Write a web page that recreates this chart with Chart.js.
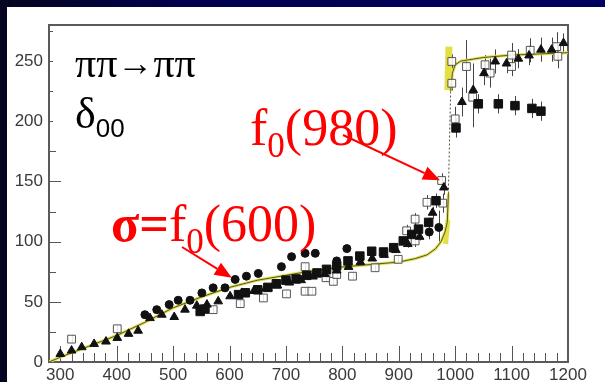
<!DOCTYPE html>
<html>
<head>
<meta charset="utf-8">
<script src="https://cdn.jsdelivr.net/npm/chart.js@4/dist/chart.umd.min.js"></script>
<style>
  html, body { margin: 0; padding: 0; background: #fff; overflow: hidden; }
  #wrap { width: 605px; height: 382px; position: relative; }
</style>
</head>
<body>
<div id="wrap"><canvas id="c" width="605" height="382"></canvas></div>
<script>
// Axis ticks
const xTicks = [300, 400, 500, 600, 700, 800, 900, 1000, 1100, 1200];
const yTicks = [0, 50, 100, 150, 200, 250];

// Phase shift delta_00 (degrees) versus pi-pi mass (MeV)
// Filled circles
const circX = [450, 471, 493, 509, 530, 551, 571, 592, 610, 630, 651, 692, 710, 734, 752, 790, 808, 954, 971];
const circY = [39.3, 43.5, 47.7, 51.3, 51.3, 57.4, 61.6, 61.6, 68.6, 71.3, 73.6, 79.2, 87.5, 90.3, 90.3, 84, 94.2, 108, 111.8];
const circErr = [2, 2, 2, 2, 2, 2, 2, 2, 3, 3, 3, 3, 3, 3, 3, 3, 3, 6, 14];

// Filled triangles
const triX = [300, 320, 338, 360, 381, 401, 421, 438, 459, 480, 502, 521, 542, 560, 580, 601, 622, 643, 664, 685, 706, 727, 748, 769, 790, 811, 832, 853, 874, 895, 916, 937, 960, 980, 1012, 1032, 1051, 1071, 1091, 1112, 1131, 1152, 1171, 1192];
const triY = [6.7, 9.5, 12.3, 15, 17, 20, 23.4, 26, 36.5, 39.3, 37.4, 43.5, 46.8, 47.7, 50.4, 54.6, 57.4, 59, 61, 63.5, 66, 68, 71, 73, 76, 79, 83, 86, 89, 93, 98, 104, 124, 145, 216, 226, 240, 249.7, 248, 252, 254.7, 259.5, 259.5, 265];
const triErr = [4, 2, 1, 1, 1, 1, 1, 1, 2, 2, 2, 2, 2, 2, 2, 2, 2, 2, 2, 2, 2, 2, 2, 2, 2, 2, 2, 2, 2, 2, 3, 3, 5, 6, 12, 22, 10, 10, 8, 8, 8, 10, 10, 8];

// Filled squares
const fsqX = [548, 556, 616, 628, 650, 668, 683, 700, 718, 737, 755, 772, 790, 810, 831, 852, 873, 891, 908, 923, 935, 953, 966, 1001.5, 1041, 1076.5, 1106, 1136, 1152];
const fsqY = [42, 44, 56, 57.5, 60, 62, 65, 68, 69, 72, 74, 77, 80, 84, 88, 92, 91.4, 95, 100.6, 106, 110.4, 116, 134, 194.5, 214.5, 214.5, 213, 210.7, 208.4];
const fsqErr = [2, 2, 2, 2, 2, 2, 2, 2, 2, 2, 2, 2, 2, 2, 2, 2, 2, 2, 2, 2, 3, 4, 6, 8, 8, 8, 8, 8, 8];

// Open squares
const osqX = [320, 401, 571, 619, 660, 701, 734, 746, 734, 771, 784, 790, 818, 858, 899, 914, 929, 929, 950, 976, 978, 994, 994, 1000, 1020, 1031, 1053, 1062, 1100, 1100, 1133, 1180, 1182];
const osqY = [19, 27.6, 43.5, 48.5, 53.2, 56.6, 58.8, 58.8, 79.2, 70, 67, 72.7, 71.3, 78.3, 85.3, 109, 100.6, 118.7, 132.7, 150.8, 132, 249.7, 231.6, 202, 245.5, 220, 247, 240, 255, 245.5, 259, 262, 254];
const osqErr = [3, 3, 3, 3, 3, 3, 3, 3, 3, 3, 3, 3, 3, 3, 3, 5, 5, 5, 6, 6, 8, 6, 6, 10, 22, 25, 8, 12, 10, 8, 10, 12, 10];

// Fitted phase shift curve
const curveX = [280, 300, 350, 400, 450, 500, 550, 600, 650, 700, 750, 800, 850, 900, 930, 950, 965, 975, 982, 986, 988, 990, 992, 995, 1000, 1010, 1050, 1100, 1150, 1200];
const curveY = [0, 4, 13, 22, 33, 45, 54, 62, 68, 72, 76, 79, 81, 83, 86, 89, 94, 100, 108, 116, 140, 185, 225, 240, 247, 250, 253, 255, 256, 257];

// Uncertainty band of the curve near the f0(980)
const bandLowX = [983, 987];
const bandLowY = [98, 118];
const bandTopX = [987, 989];
const bandTopY = [226, 262];

const pts = (xs, ys, es) => xs.map((x, i) => ({ x, y: ys[i], e: es ? es[i] : 0 }));

const YELLOW = 'rgba(226, 222, 60, 0.95)';
const INK = '#111';

// Annotation arrows, tips given in data units
const notes = {
  sigma: { from: [182, 247], tip: [604, 70] },
  f980: { from: [343, 135], tip: [973, 151] }
};

const pagePlugin = {
  id: 'page',
  beforeDraw(chart) {
    const { ctx, width, height } = chart;
    ctx.save();
    const g = ctx.createLinearGradient(0, 0, width, 0);
    g.addColorStop(0, '#050520');
    g.addColorStop(0.3, '#00004e');
    g.addColorStop(1, '#00005e');
    ctx.fillStyle = g;
    ctx.fillRect(0, 0, width, height);
    ctx.fillStyle = '#ffffff';
    ctx.fillRect(7, 7, width - 7, height - 7);
    ctx.restore();
  }
};

const frameTicksPlugin = {
  id: 'frameTicks',
  beforeDatasetsDraw(chart) {
    const { ctx, chartArea: a, scales: { x, y } } = chart;
    ctx.save();
    ctx.strokeStyle = '#555';
    ctx.lineWidth = 1;
    ctx.beginPath();
    for (let v = 280; v <= 1200; v += 20) {
      const px = Math.round(x.getPixelForValue(v)) + 0.5;
      const len = v % 100 === 0 ? 16 : 9;
      ctx.moveTo(px, a.bottom);
      ctx.lineTo(px, a.bottom - len);
    }
    for (let v = 25; v <= 275; v += 25) {
      const py = Math.round(y.getPixelForValue(v)) + 0.5;
      const len = v % 50 === 0 ? 12 : 7;
      ctx.moveTo(a.left, py);
      ctx.lineTo(a.left + len, py);
    }
    ctx.stroke();
    // white text panel laid over the top-left corner
    ctx.fillStyle = '#fff';
    ctx.fillRect(a.left + 4, a.top + 2, 146, 122);
    // frame
    ctx.strokeStyle = '#5a5a5a';
    ctx.lineWidth = 2;
    ctx.strokeRect(a.left, a.top, a.right - a.left, a.bottom - a.top);
    // error bars
    ctx.strokeStyle = '#444';
    ctx.lineWidth = 1;
    ctx.beginPath();
    chart.data.datasets.forEach((ds, i) => {
      if (!ds.errorBars || !chart.isDatasetVisible(i)) return;
      ds.data.forEach(p => {
        if (!p.e) return;
        const px = Math.round(x.getPixelForValue(p.x)) + 0.5;
        ctx.moveTo(px, y.getPixelForValue(p.y - p.e));
        ctx.lineTo(px, y.getPixelForValue(p.y + p.e));
      });
    });
    ctx.stroke();
    ctx.restore();
  }
};

function arrow(ctx, x0, y0, x1, y1) {
  const ang = Math.atan2(y1 - y0, x1 - x0);
  const hl = 17, hw = 7;
  const bx = x1 - hl * Math.cos(ang), by = y1 - hl * Math.sin(ang);
  ctx.beginPath();
  ctx.moveTo(x0, y0);
  ctx.lineTo(bx, by);
  ctx.stroke();
  ctx.beginPath();
  ctx.moveTo(x1, y1);
  ctx.lineTo(bx + hw * Math.sin(ang), by - hw * Math.cos(ang));
  ctx.lineTo(bx - hw * Math.sin(ang), by + hw * Math.cos(ang));
  ctx.closePath();
  ctx.fill();
}

// Writes a run of [text, font, dy] pieces left to right
function runs(ctx, x, y, parts) {
  parts.forEach(([t, f, dy]) => {
    ctx.font = f;
    ctx.fillText(t, x, y + dy);
    x += ctx.measureText(t).width;
  });
}

const labelsPlugin = {
  id: 'labels',
  afterDraw(chart) {
    const { ctx, scales: { x, y } } = chart;
    ctx.save();
    ctx.textBaseline = 'alphabetic';
    ctx.fillStyle = '#000';
    const serif = '"Liberation Serif", "Times New Roman", serif';
    const sans = '"Liberation Sans", Arial, sans-serif';
    runs(ctx, 75, 77, [['ππ', `42px ${serif}`, 0], ['→', `36px ${serif}`, -2], ['ππ', `42px ${serif}`, 0]]);
    runs(ctx, 75, 128, [['δ', `44px ${serif}`, 0], ['00', `26px ${sans}`, 9]]);

    ctx.fillStyle = '#ff0000';
    runs(ctx, 250, 145, [
      ['f', `52px ${serif}`, 0], ['0', `35px ${serif}`, 12], ['(980)', `52px ${serif}`, 0]
    ]);
    runs(ctx, 111, 241, [
      ['σ=', `bold 52px ${serif}`, 0], ['f', `52px ${serif}`, 0],
      ['0', `35px ${serif}`, 12], ['(600)', `52px ${serif}`, 0]
    ]);

    ctx.strokeStyle = '#ff0000';
    ctx.lineWidth = 2;
    Object.values(notes).forEach(n => {
      arrow(ctx, n.from[0], n.from[1], x.getPixelForValue(n.tip[0]), y.getPixelForValue(n.tip[1]));
    });
    ctx.restore();
  }
};

const steep = c => c.p0.parsed.y > 118 && c.p1.parsed.y < 230;

new Chart(document.getElementById('c'), {
  type: 'scatter',
  data: {
    datasets: [
      {
        label: 'band',
        type: 'line',
        data: pts(curveX, curveY),
        borderColor: YELLOW,
        borderWidth: 3,
        pointRadius: 0,
        tension: 0,
        segment: { borderColor: c => steep(c) ? 'rgba(0,0,0,0)' : YELLOW },
        order: 10
      },
      {
        label: 'band low',
        type: 'line',
        data: pts(bandLowX, bandLowY),
        borderColor: YELLOW,
        borderWidth: 5,
        pointRadius: 0,
        order: 9
      },
      {
        label: 'band top',
        type: 'line',
        data: pts(bandTopX, bandTopY),
        borderColor: YELLOW,
        borderWidth: 7,
        pointRadius: 0,
        order: 9
      },
      {
        label: 'fit',
        type: 'line',
        data: pts(curveX, curveY),
        borderColor: '#55553a',
        borderWidth: 1,
        pointRadius: 0,
        tension: 0,
        segment: { borderDash: c => steep(c) ? [2, 2] : undefined },
        order: 8
      },
      {
        label: 'open squares',
        data: pts(osqX, osqY, osqErr),
        errorBars: true,
        pointStyle: 'rect',
        pointRadius: 5.5,
        backgroundColor: 'rgba(255,255,255,0.85)',
        borderColor: '#555',
        borderWidth: 1,
        order: 4
      },
      {
        label: 'filled squares',
        data: pts(fsqX, fsqY, fsqErr),
        errorBars: true,
        pointStyle: 'rect',
        pointRadius: 6,
        backgroundColor: INK,
        borderColor: INK,
        borderWidth: 1,
        order: 3
      },
      {
        label: 'triangles',
        data: pts(triX, triY, triErr),
        errorBars: true,
        pointStyle: 'triangle',
        pointRadius: 5,
        backgroundColor: INK,
        borderColor: INK,
        borderWidth: 1,
        order: 2
      },
      {
        label: 'circles',
        data: pts(circX, circY, circErr),
        errorBars: true,
        pointStyle: 'circle',
        pointRadius: 4,
        backgroundColor: INK,
        borderColor: INK,
        borderWidth: 1,
        order: 1
      }
    ]
  },
  options: {
    responsive: false,
    devicePixelRatio: 1,
    animation: false,
    layout: { padding: { left: 0, right: 37, top: 25, bottom: 0 } },
    plugins: { legend: { display: false }, tooltip: { enabled: false } },
    scales: {
      x: {
        type: 'linear',
        min: 280,
        max: 1200,
        afterBuildTicks: s => { s.ticks = xTicks.map(v => ({ value: v })); },
        afterFit: s => { s.height = 20; },
        grid: { display: false, drawTicks: false },
        border: { display: false },
        ticks: {
          padding: 3,
          color: '#3a3a3a',
          maxRotation: 0,
          autoSkip: false,
          callback: v => String(v),
          font: { family: '"Liberation Sans", Arial, sans-serif', size: 17 }
        }
      },
      y: {
        type: 'linear',
        min: 0,
        max: 280,
        afterBuildTicks: s => { s.ticks = yTicks.map(v => ({ value: v })); },
        afterFit: s => { s.width = 49; },
        grid: { display: false, drawTicks: false },
        border: { display: false },
        ticks: {
          padding: 6,
          color: '#3a3a3a',
          callback: v => String(v),
          font: { family: '"Liberation Sans", Arial, sans-serif', size: 17 }
        }
      }
    }
  },
  plugins: [pagePlugin, frameTicksPlugin, labelsPlugin]
});
</script>
</body>
</html>
